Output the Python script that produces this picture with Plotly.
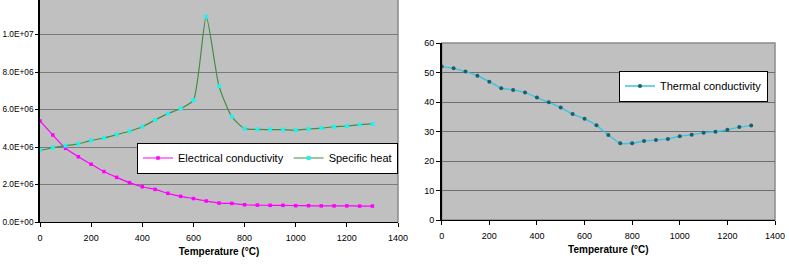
import plotly.graph_objects as go

# ---- data ----
temp = [0, 50, 100, 150, 200, 250, 300, 350, 400, 450, 500, 550, 600, 650,
        700, 750, 800, 850, 900, 950, 1000, 1050, 1100, 1150, 1200, 1250, 1300]

electrical_conductivity = [5.39e6, 4.64e6, 3.93e6, 3.48e6, 3.08e6, 2.69e6, 2.38e6, 2.10e6,
                           1.88e6, 1.74e6, 1.53e6, 1.37e6, 1.25e6, 1.12e6, 1.01e6, 0.99e6,
                           0.92e6, 0.90e6, 0.89e6, 0.89e6, 0.87e6, 0.87e6, 0.86e6, 0.86e6,
                           0.86e6, 0.85e6, 0.85e6]

specific_heat = [3.82e6, 3.96e6, 4.07e6, 4.17e6, 4.35e6, 4.48e6, 4.66e6, 4.84e6,
                 5.08e6, 5.44e6, 5.78e6, 6.05e6, 6.50e6, 10.95e6, 7.25e6, 5.62e6,
                 4.98e6, 4.94e6, 4.93e6, 4.93e6, 4.90e6, 4.96e6, 5.01e6, 5.08e6,
                 5.12e6, 5.19e6, 5.23e6]

thermal_conductivity = [52.0, 51.4, 50.3, 48.9, 46.9, 44.7, 44.1, 43.2, 41.5, 39.9,
                        38.1, 35.9, 34.3, 32.1, 28.8, 26.0, 26.0, 26.8, 27.1, 27.5,
                        28.4, 28.9, 29.6, 29.9, 30.6, 31.5, 32.0]

x_ticks = [0, 200, 400, 600, 800, 1000, 1200, 1400]
left_y_ticks = [0, 2e6, 4e6, 6e6, 8e6, 1e7]
left_y_labels = ["0.0E+00", "2.0E+06", "4.0E+06", "6.0E+06", "8.0E+06", "1.0E+07"]
right_y_ticks = [0, 10, 20, 30, 40, 50, 60]

W, H = 789, 264
FONT = "Liberation Sans, Arial, sans-serif"

fig = go.Figure()

fig.add_trace(go.Scatter(
    x=temp, y=electrical_conductivity, name="Electrical conductivity",
    mode="lines+markers", line=dict(color="#ff00ff", width=1.2, shape="spline", smoothing=0.6),
    marker=dict(symbol="square", size=3.5, color="#ff00ff"),
    xaxis="x", yaxis="y", legend="legend"))
fig.add_trace(go.Scatter(
    x=temp, y=specific_heat, name="Specific heat",
    mode="lines+markers", line=dict(color="#3f8f3f", width=1.2, shape="spline", smoothing=0.6),
    marker=dict(symbol="square", size=4, color="#22f0f0"),
    xaxis="x", yaxis="y", legend="legend"))
fig.add_trace(go.Scatter(
    x=temp, y=thermal_conductivity, name="Thermal conductivity",
    mode="lines+markers", line=dict(color="#38c4e8", width=1.4, shape="spline", smoothing=0.6),
    marker=dict(symbol="circle", size=4, color="#1d5e68"),
    xaxis="x2", yaxis="y2", legend="legend2"))

tickfont = dict(family=FONT, size=9, color="#000")
ytickfont_left = dict(family=FONT, size=8.3, color="#000")
titlefont = dict(family=FONT, size=10, color="#000")

common_x = dict(range=[0, 1400], tickvals=x_ticks, ticks="outside", ticklen=4,
                tickcolor="#000", showline=True, linecolor="#000", linewidth=1,
                showgrid=False, zeroline=False, tickfont=tickfont,
                ticklabelstandoff=3, automargin=False,
                title=dict(text="<b>Temperature (°C)</b>", font=titlefont, standoff=6))

fig.update_layout(
    width=W, height=H, margin=dict(l=0, r=0, t=0, b=0, autoexpand=False),
    paper_bgcolor="white", plot_bgcolor="#c0c0c0",
    showlegend=True,
    xaxis=dict(domain=[40 / W, 398 / W], anchor="y", **common_x),
    yaxis=dict(domain=[42 / H, 1], anchor="x", range=[0, 222 / 37.5 * 2e6],
               tickvals=left_y_ticks, ticktext=left_y_labels,
               ticks="outside", ticklen=3, tickcolor="#000",
               showline=True, linecolor="#000", linewidth=1.5,
               showgrid=True, gridcolor="#7a7a7a", gridwidth=1, zeroline=False,
               tickfont=ytickfont_left, automargin=False),
    xaxis2=dict(domain=[441.7 / W, 775 / W], anchor="y2", **common_x),
    yaxis2=dict(domain=[44 / H, 221 / H], anchor="x2", range=[0, 60],
                tickvals=right_y_ticks, ticks="outside", ticklen=4, tickcolor="#000",
                showline=True, linecolor="#000", linewidth=1.5,
                showgrid=True, gridcolor="#6e6e6e", gridwidth=1, zeroline=False,
                tickfont=tickfont, automargin=False),
    legend=dict(x=398 / W, xanchor="right", y=(H - 158) / H, yanchor="middle",
                orientation="h", bgcolor="white", bordercolor="#000", borderwidth=1,
                font=dict(family=FONT, size=11, color="#000"), itemwidth=30,
                tracegroupgap=0),
    legend2=dict(x=768 / W, xanchor="right", y=(H - 86) / H, yanchor="middle",
                 orientation="h", bgcolor="white", bordercolor="#000", borderwidth=1,
                 font=dict(family=FONT, size=11, color="#000"), itemwidth=30),
    shapes=[
        dict(type="rect", xref="x2 domain", yref="y2 domain", x0=0, x1=1, y0=0, y1=1,
             line=dict(color="#8a8a8a", width=1.5), layer="below"),
        dict(type="line", xref="x domain", yref="y domain", x0=1, x1=1, y0=0, y1=1,
             line=dict(color="#8a8a8a", width=1.5), layer="below"),
    ],
    annotations=[
        dict(text="1.2E+07", xref="paper", yref="paper", x=34 / W, y=1 + 3.5 / H,
             xanchor="right", yanchor="middle", showarrow=False, font=ytickfont_left),
    ],
)

fig.write_html("out.html")
